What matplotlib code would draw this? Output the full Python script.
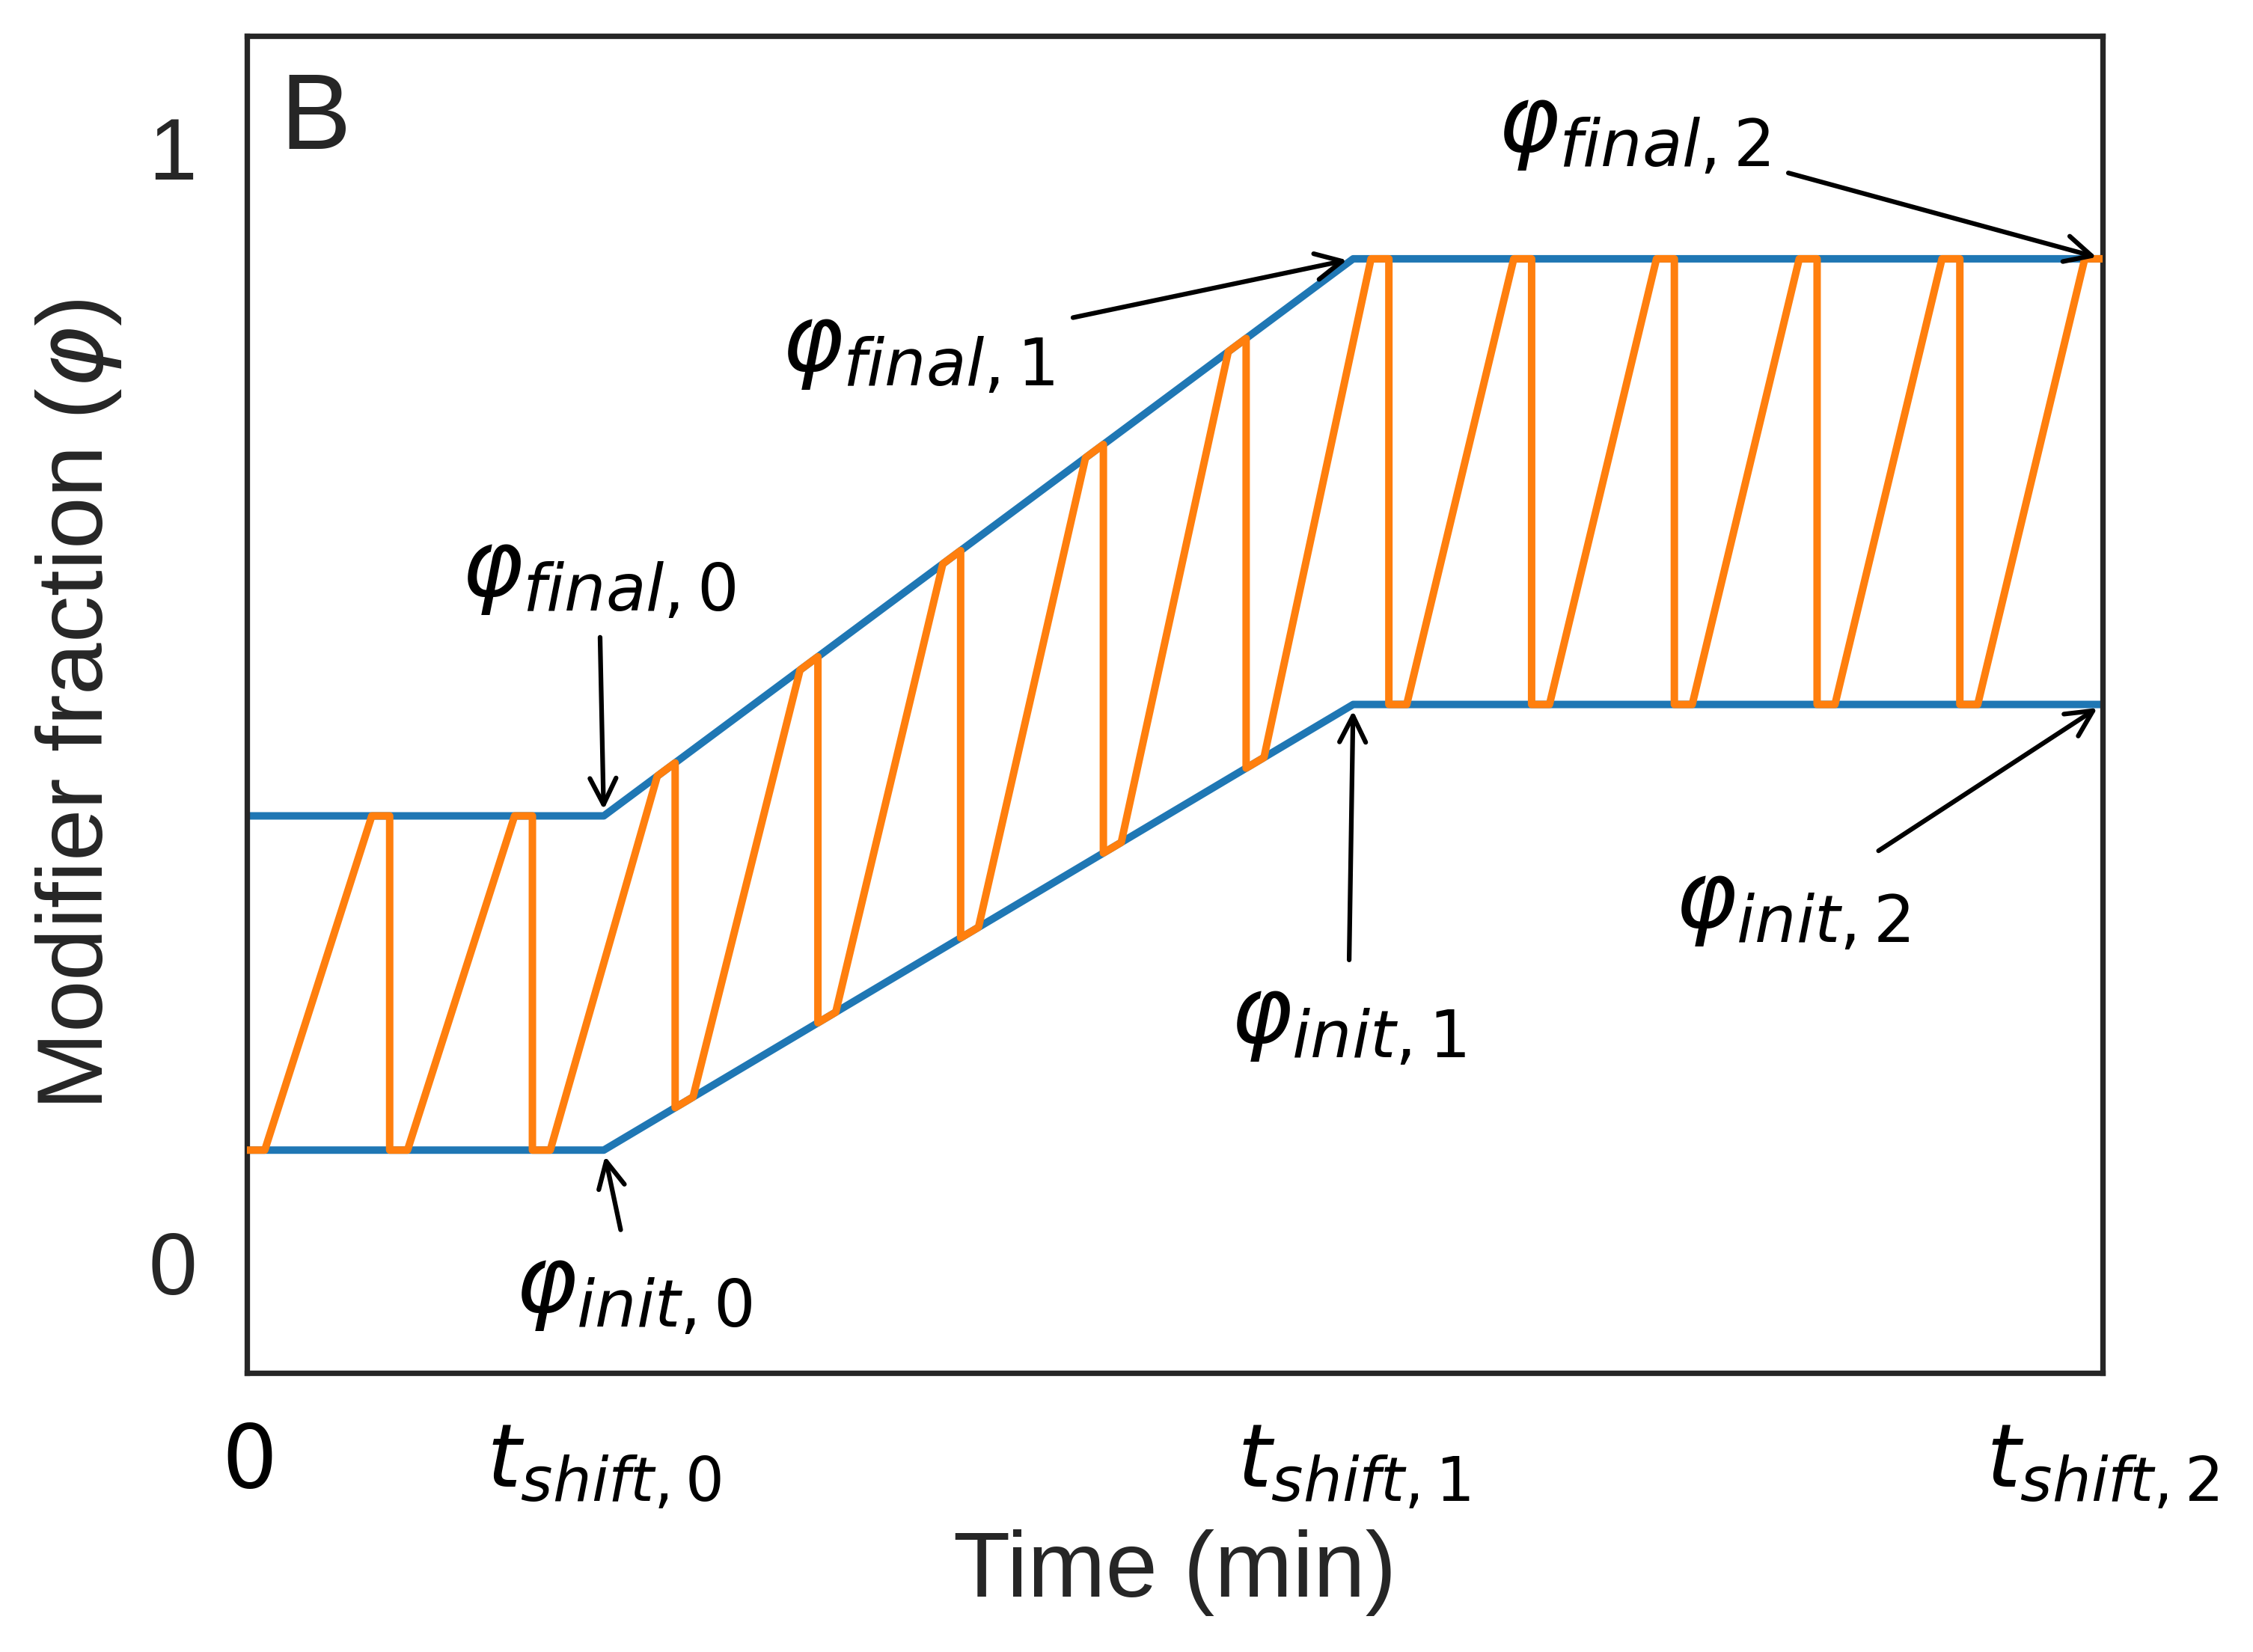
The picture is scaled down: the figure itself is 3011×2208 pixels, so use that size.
import numpy as np
import matplotlib
matplotlib.use("Agg")
import matplotlib.pyplot as plt

# ---------------- data ----------------
t_nodes = [0.0, 5.0, 15.5, 26.0]          # 0, t_shift,0, t_shift,1, t_shift,2
phi_init = [0.1, 0.1, 0.5, 0.5]           # lower bound of the gradient
phi_final = [0.4, 0.4, 0.9, 0.9]          # upper bound of the gradient
t_cycle = 2.0                              # one second-dimension cycle
t_hold = 0.25                              # isocratic hold at start/end of cycle
t_grad = 1.5                               # gradient duration
n_cycles = 13

xtick_labels = [r'$0$', r'$t_{shift,0}$', r'$t_{shift,1}$', r'$t_{shift,2}$']
ytick_vals = [0, 1]
ytick_labels = ['0', '1']

ann_labels = [r'$\varphi_{final,0}$', r'$\varphi_{init,0}$',
              r'$\varphi_{final,1}$', r'$\varphi_{init,1}$',
              r'$\varphi_{final,2}$', r'$\varphi_{init,2}$']
ann_target_t = [5.0, 5.0, 15.5, 15.5, 26.0, 26.0]
ann_target_phi = [0.4, 0.1, 0.9, 0.5, 0.9, 0.5]
ann_text_t = [4.93, 5.42, 9.40, 15.43, 19.43, 21.65]
ann_text_phi = [0.616, -0.027, 0.818, 0.215, 1.015, 0.318]

# ---------------- build sawtooth from the bounds ----------------
def lower(t):
    return np.interp(t, t_nodes, phi_init)

def upper(t):
    return np.interp(t, t_nodes, phi_final)

saw_t, saw_phi = [], []
for k in range(n_cycles):
    t0 = k * t_cycle
    pts = [(t0, lower(t0)),
           (t0 + t_hold, lower(t0 + t_hold)),
           (t0 + t_hold + t_grad, upper(t0 + t_hold + t_grad)),
           (t0 + t_cycle, upper(t0 + t_cycle))]
    if k < n_cycles - 1:
        pts.append((t0 + t_cycle, lower(t0 + t_cycle)))
    for a, b in pts:
        saw_t.append(a)
        saw_phi.append(b)

# ---------------- style ----------------
plt.rcParams['font.family'] = ['Liberation Sans', 'DejaVu Sans']
plt.rcParams['mathtext.fontset'] = 'dejavusans'
dark = '#262626'

fig = plt.figure(figsize=(10.04, 7.363), dpi=300)
ax = fig.add_axes([0.10956, 0.16885, 0.82337, 0.80897])

ax.plot(t_nodes, phi_init, color='#1f77b4', lw=2.4, zorder=2)
ax.plot(t_nodes, phi_final, color='#1f77b4', lw=2.4, zorder=2)
ax.plot(saw_t, saw_phi, color='#ff7f0e', lw=2.4, zorder=3)

ax.set_xlim(t_nodes[0], t_nodes[-1])
ax.set_ylim(-0.1, 1.1)

ax.set_xticks(t_nodes)
ax.set_xticklabels(xtick_labels, fontsize=28, color='black')
ax.set_yticks(ytick_vals)
ax.set_yticklabels(ytick_labels, fontsize=28, color=dark)
ax.tick_params(axis='both', length=0, pad=16)

ax.set_xlabel('Time (min)', fontsize=30, color=dark, labelpad=6)
ax.set_ylabel(r'Modifier fraction ($\varphi$)', fontsize=30, color=dark, labelpad=8)

for s in ax.spines.values():
    s.set_color(dark)
    s.set_linewidth(1.75)

ax.text(0.018, 0.916, 'B', transform=ax.transAxes, fontsize=34,
        color=dark, ha='left', va='baseline')

for lab, xt, yt, tx, ty in zip(ann_labels, ann_target_t, ann_target_phi,
                               ann_text_t, ann_text_phi):
    ax.annotate(lab, xy=(xt, yt), xytext=(tx, ty), fontsize=30,
                ha='center', va='center', color='black',
                arrowprops=dict(arrowstyle='->', color='black', lw=1.5,
                                mutation_scale=21, shrinkA=4, shrinkB=2),
                annotation_clip=False, zorder=5)

fig.savefig('out.png', dpi=300)
